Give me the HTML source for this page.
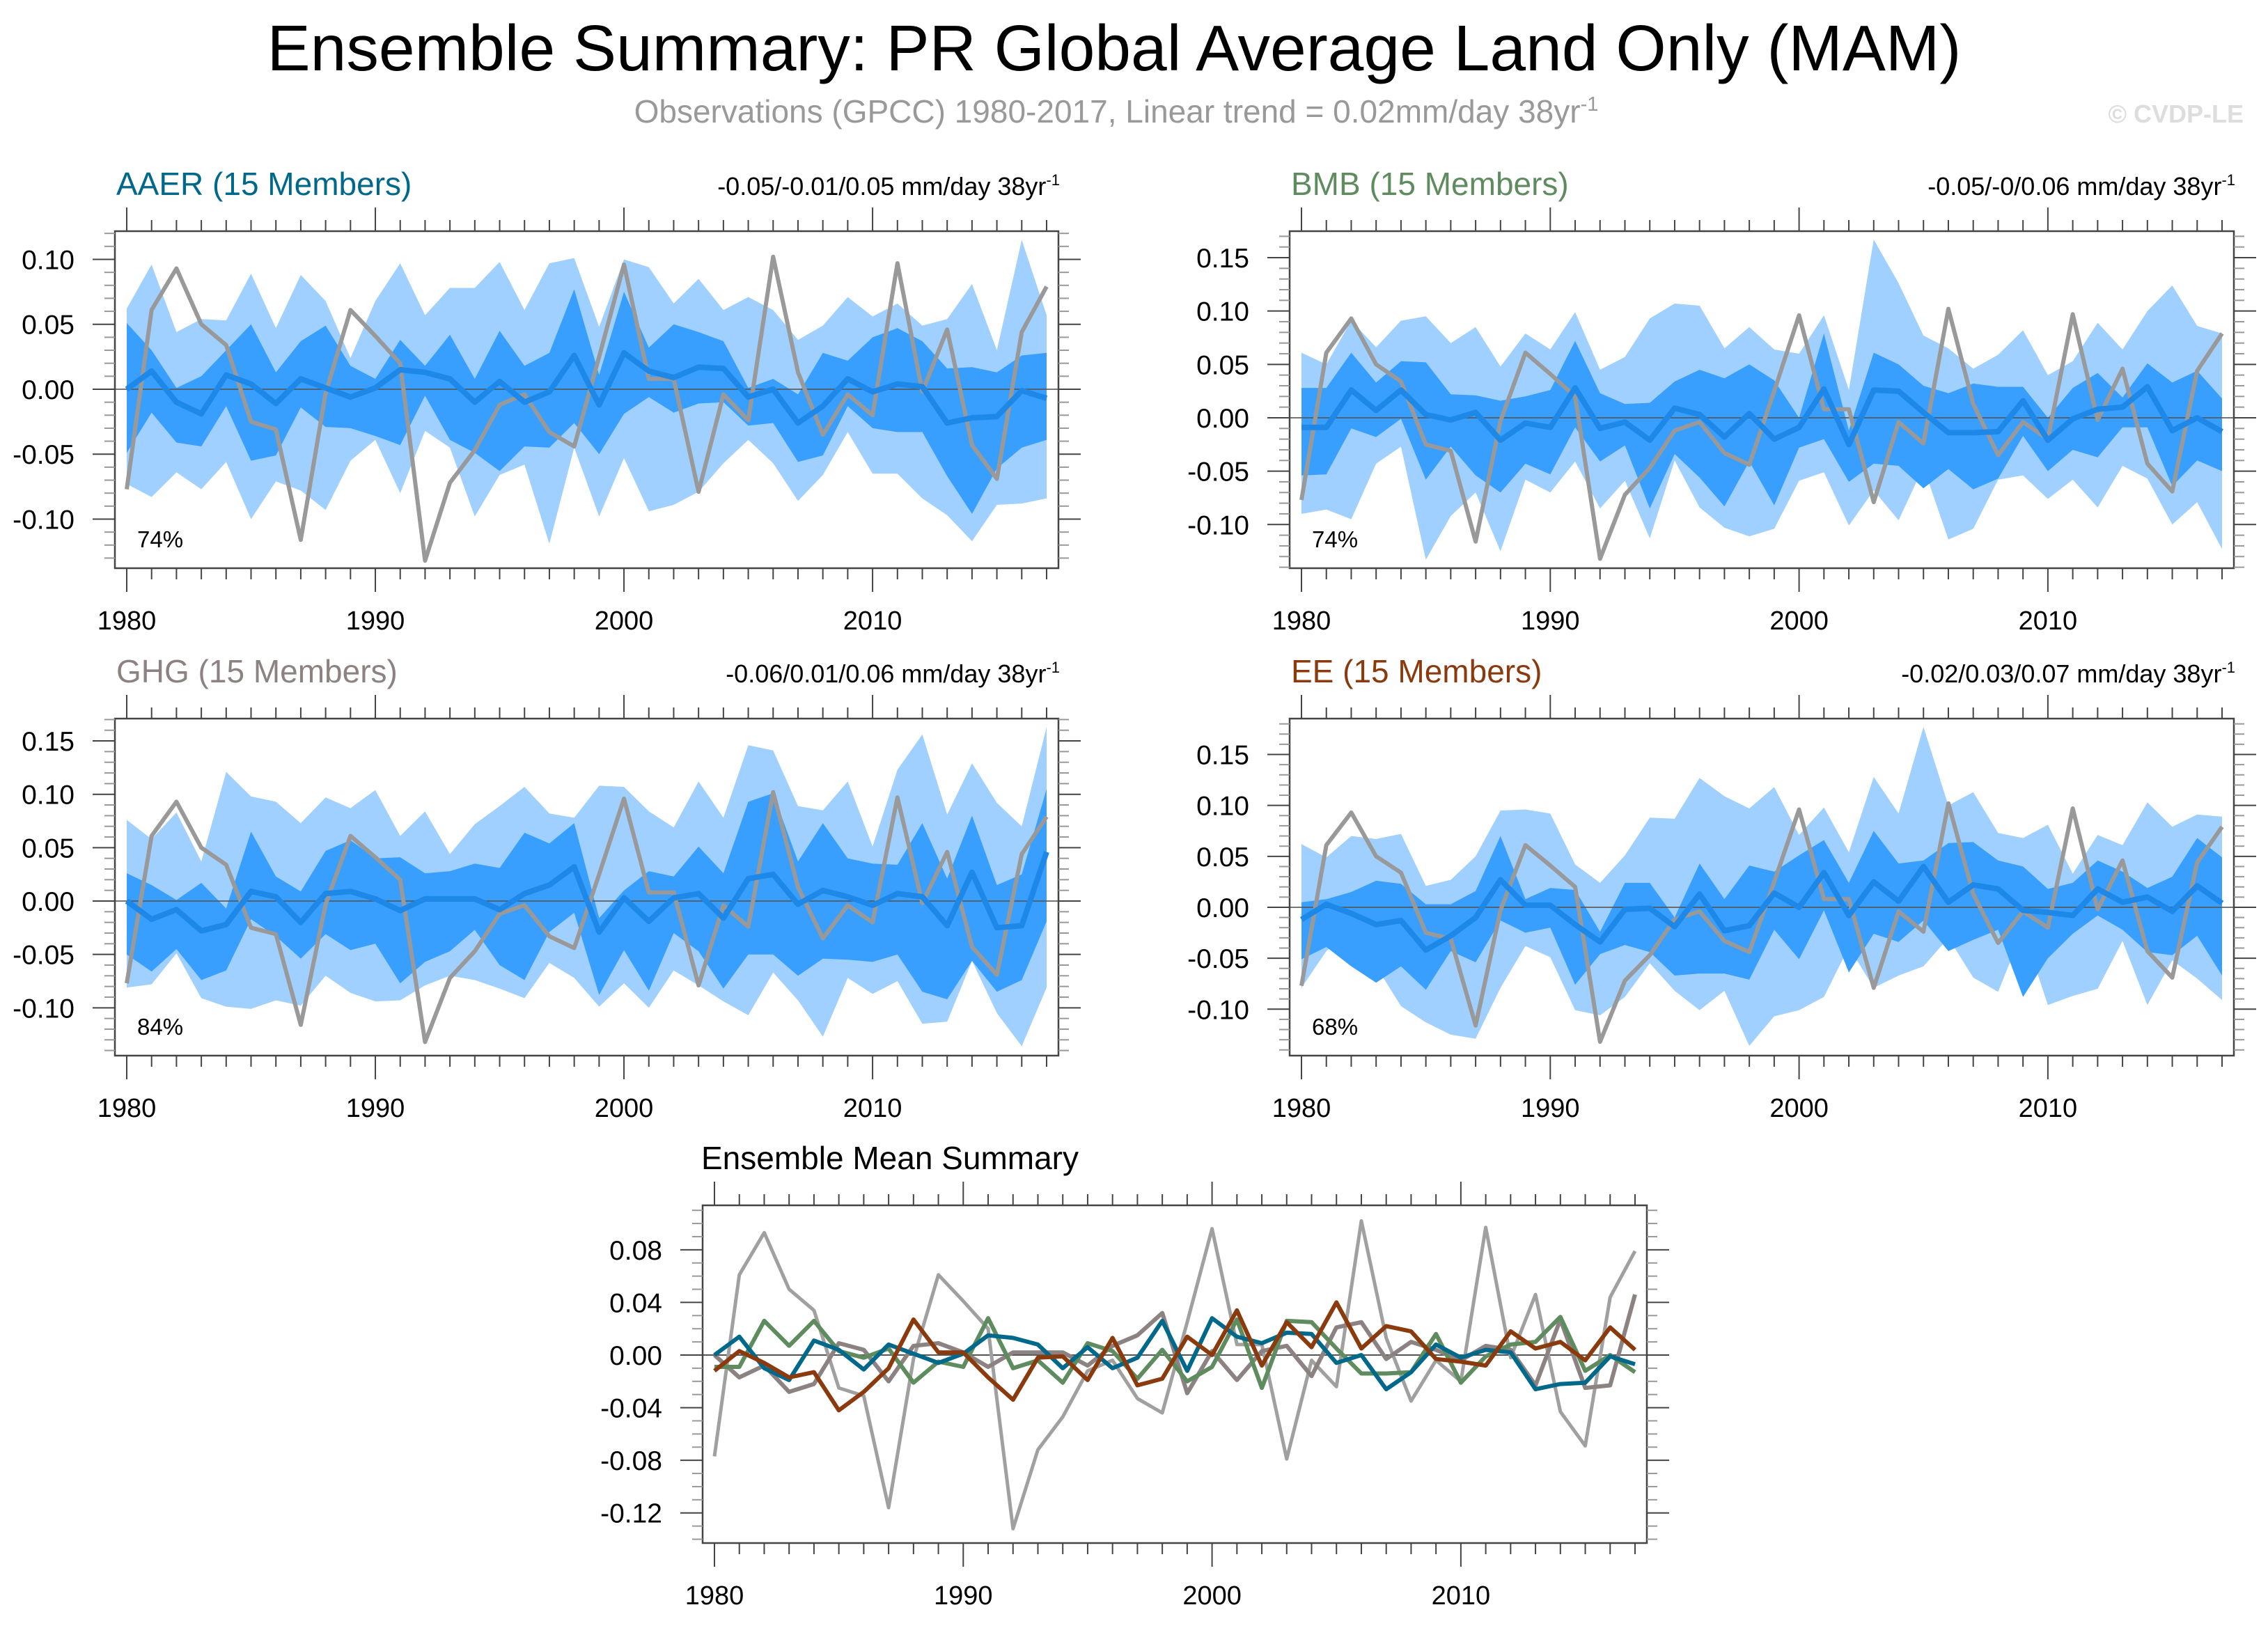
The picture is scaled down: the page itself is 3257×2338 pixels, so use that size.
<!DOCTYPE html>
<html><head><meta charset="utf-8"><style>
html,body{margin:0;padding:0;background:#fff;}
svg{display:block;font-family:"Liberation Sans",sans-serif;}
</style></head><body>
<svg id="chart" width="3257" height="2338" viewBox="0 0 3257 2338" xmlns="http://www.w3.org/2000/svg">
<rect width="3257" height="2338" fill="#fff"/>
<text x="1600" y="101" font-size="93" text-anchor="middle" fill="#000">Ensemble Summary: PR Global Average Land Only (MAM)</text>
<text x="1603" y="176" font-size="46" text-anchor="middle" fill="#999">Observations (GPCC) 1980-2017, Linear trend = 0.02mm/day 38yr<tspan dy="-17" font-size="29">-1</tspan></text>
<text x="3222" y="176" font-size="36" font-weight="bold" text-anchor="end" fill="#ddd">© CVDP-LE</text>
<g id="panels"></g>
</svg>
<script>
const years = [];for (let y = 1980; y <= 2017; y++) years.push(y);
const obs = [-0.077,0.061,0.093,0.050,0.034,-0.025,-0.031,-0.116,-0.003,0.061,0.041,0.020,-0.132,-0.072,-0.047,-0.012,-0.004,-0.033,-0.044,0.025,0.096,0.008,0.008,-0.079,-0.004,-0.024,0.102,0.013,-0.035,-0.004,-0.020,0.097,-0.002,0.046,-0.043,-0.069,0.044,0.079];

const aaerMean = [0.000,0.014,-0.010,-0.019,0.011,0.004,-0.011,0.008,0.001,-0.006,0.001,0.015,0.013,0.008,-0.010,0.006,-0.010,-0.002,0.026,-0.012,0.028,0.014,0.009,0.017,0.016,-0.006,0.000,-0.026,-0.013,0.008,-0.002,0.004,0.002,-0.026,-0.022,-0.021,-0.001,-0.007];
const aaerMax = [0.062,0.096,0.044,0.054,0.053,0.089,0.047,0.088,0.068,0.024,0.068,0.097,0.057,0.078,0.078,0.098,0.061,0.097,0.101,0.048,0.100,0.094,0.066,0.085,0.061,0.071,0.061,0.038,0.049,0.071,0.056,0.066,0.049,0.054,0.081,0.030,0.115,0.057];
const aaerHi = [0.051,0.030,0.001,0.010,0.030,0.050,0.013,0.037,0.049,0.018,0.008,0.038,0.018,0.042,0.008,0.045,0.018,0.028,0.077,0.011,0.075,0.032,0.050,0.044,0.037,0.001,0.008,-0.004,0.028,0.022,0.040,0.047,0.037,0.016,0.017,0.013,0.026,0.028];
const aaerLo = [-0.049,-0.018,-0.041,-0.044,-0.013,-0.055,-0.051,-0.014,-0.029,-0.030,-0.036,-0.043,-0.005,-0.039,-0.049,-0.063,-0.044,-0.045,-0.026,-0.050,-0.019,-0.006,-0.018,-0.011,-0.010,-0.028,-0.026,-0.056,-0.051,-0.013,-0.030,-0.033,-0.033,-0.067,-0.096,-0.061,-0.045,-0.039];
const aaerMin = [-0.073,-0.083,-0.064,-0.077,-0.056,-0.100,-0.071,-0.078,-0.093,-0.055,-0.039,-0.080,-0.032,-0.045,-0.098,-0.066,-0.058,-0.119,-0.045,-0.098,-0.053,-0.094,-0.089,-0.079,-0.057,-0.039,-0.057,-0.086,-0.066,-0.033,-0.065,-0.065,-0.084,-0.097,-0.117,-0.089,-0.088,-0.084];

const bmbMean = [-0.009,-0.009,0.026,0.007,0.026,0.003,-0.002,0.005,-0.021,-0.005,-0.009,0.028,-0.010,-0.004,-0.021,0.009,0.003,-0.018,0.004,-0.020,-0.009,0.027,-0.025,0.026,0.025,0.005,-0.014,-0.014,-0.013,0.016,-0.021,-0.001,0.008,0.010,0.029,-0.012,0.000,-0.013];
const bmbMax = [0.061,0.050,0.091,0.066,0.091,0.095,0.070,0.085,0.048,0.079,0.064,0.099,0.045,0.057,0.093,0.107,0.105,0.065,0.085,0.064,0.060,0.096,0.026,0.167,0.126,0.077,0.065,0.046,0.059,0.082,0.040,0.053,0.089,0.064,0.100,0.124,0.086,0.079];
const bmbHi = [0.028,0.028,0.061,0.033,0.053,0.052,0.022,0.021,0.016,0.020,0.026,0.072,0.023,0.013,0.014,0.034,0.045,0.037,0.050,0.035,0.000,0.079,-0.012,0.061,0.050,0.030,0.023,0.032,0.029,0.029,0.000,0.028,0.042,0.019,0.051,0.033,0.044,0.018];
const bmbLo = [-0.054,-0.053,-0.010,-0.018,-0.001,-0.058,-0.027,-0.054,-0.070,-0.043,-0.053,-0.009,-0.041,-0.026,-0.085,-0.034,-0.056,-0.083,-0.041,-0.082,-0.028,-0.020,-0.060,-0.043,-0.045,-0.066,-0.048,-0.067,-0.057,-0.017,-0.050,-0.030,-0.037,-0.009,-0.009,-0.064,-0.040,-0.050];
const bmbMin = [-0.090,-0.086,-0.095,-0.043,-0.027,-0.133,-0.092,-0.070,-0.125,-0.058,-0.070,-0.041,-0.085,-0.059,-0.113,-0.040,-0.084,-0.103,-0.111,-0.104,-0.059,-0.051,-0.101,-0.068,-0.096,-0.046,-0.114,-0.104,-0.058,-0.054,-0.076,-0.058,-0.084,-0.045,-0.057,-0.100,-0.079,-0.123];

const ghgMean = [0.000,-0.017,-0.008,-0.028,-0.022,0.009,0.004,-0.020,0.007,0.009,0.002,-0.009,0.002,0.002,0.002,-0.008,0.007,0.015,0.032,-0.029,0.003,-0.019,0.003,0.007,-0.016,0.021,0.025,-0.003,0.010,0.004,-0.004,0.007,0.004,-0.023,0.027,-0.025,-0.023,0.046];
const ghgMax = [0.076,0.058,0.083,0.037,0.121,0.098,0.093,0.073,0.097,0.087,0.104,0.061,0.084,0.044,0.072,0.089,0.107,0.082,0.078,0.108,0.107,0.084,0.069,0.112,0.078,0.146,0.141,0.089,0.085,0.112,0.051,0.123,0.156,0.081,0.129,0.092,0.070,0.163];
const ghgHi = [0.026,0.015,0.001,0.017,-0.007,0.065,0.023,0.009,0.047,0.057,0.040,0.041,0.026,0.028,0.035,0.031,0.064,0.054,0.073,-0.016,0.010,0.028,0.023,0.051,0.026,0.093,0.101,0.037,0.073,0.040,0.035,0.034,0.073,0.021,0.080,0.015,0.025,0.105];
const ghgLo = [-0.050,-0.066,-0.045,-0.074,-0.065,-0.017,-0.033,-0.054,-0.031,-0.046,-0.040,-0.077,-0.057,-0.047,-0.027,-0.060,-0.074,-0.029,-0.011,-0.088,-0.046,-0.084,-0.030,-0.047,-0.082,-0.050,-0.050,-0.070,-0.054,-0.055,-0.057,-0.050,-0.085,-0.092,-0.056,-0.085,-0.074,-0.019];
const ghgMin = [-0.081,-0.078,-0.049,-0.091,-0.099,-0.101,-0.093,-0.098,-0.070,-0.086,-0.094,-0.093,-0.079,-0.070,-0.074,-0.082,-0.091,-0.058,-0.072,-0.099,-0.077,-0.100,-0.065,-0.079,-0.094,-0.107,-0.067,-0.093,-0.127,-0.072,-0.087,-0.075,-0.115,-0.113,-0.056,-0.105,-0.136,-0.081];

const eeMean = [-0.012,0.003,-0.006,-0.017,-0.013,-0.042,-0.028,-0.010,0.027,0.002,0.002,-0.017,-0.034,-0.002,-0.001,-0.019,0.013,-0.023,-0.018,0.014,0.000,0.034,-0.008,0.025,0.006,0.040,0.005,0.022,0.018,-0.003,-0.005,-0.008,0.018,0.005,0.010,-0.004,0.021,0.004];
const eeMax = [0.062,0.049,0.070,0.067,0.072,0.021,0.027,0.050,0.095,0.096,0.092,0.042,0.024,0.051,0.088,0.087,0.127,0.109,0.097,0.118,0.071,0.098,0.054,0.128,0.092,0.177,0.100,0.113,0.073,0.068,0.081,0.033,0.071,0.061,0.103,0.079,0.091,0.089];
const eeHi = [0.005,0.008,0.015,0.026,0.023,0.003,0.003,0.016,0.070,0.008,0.019,0.017,-0.024,0.024,0.024,-0.010,0.043,0.008,0.041,0.035,0.051,0.066,0.024,0.075,0.043,0.046,0.063,0.064,0.046,0.040,0.018,0.024,0.046,0.035,0.019,0.030,0.068,0.049];
const eeLo = [-0.051,-0.039,-0.058,-0.074,-0.058,-0.081,-0.043,-0.054,-0.013,-0.025,-0.020,-0.076,-0.046,-0.037,-0.044,-0.067,-0.065,-0.065,-0.071,-0.022,-0.051,-0.003,-0.064,-0.026,-0.034,-0.013,-0.043,-0.032,-0.022,-0.088,-0.050,-0.026,-0.008,-0.022,-0.044,-0.047,-0.028,-0.067];
const eeMin = [-0.079,-0.043,-0.024,-0.058,-0.097,-0.113,-0.125,-0.129,-0.079,-0.038,-0.049,-0.101,-0.106,-0.088,-0.055,-0.082,-0.101,-0.082,-0.136,-0.107,-0.101,-0.088,-0.039,-0.079,-0.067,-0.058,-0.030,-0.069,-0.083,-0.022,-0.096,-0.087,-0.080,-0.033,-0.096,-0.052,-0.070,-0.091];

const aaerTicks = [-0.10,-0.05,0.00,0.05,0.10];
const panelTicks = [-0.10,-0.05,0.00,0.05,0.10,0.15];
const meanTicks = [-0.12,-0.08,-0.04,0.00,0.04,0.08];
const yearTicks = [1980,1990,2000,2010];

const NS = "http://www.w3.org/2000/svg";
const root = document.getElementById('panels');
function mk(tag, attrs, parent){const e=document.createElementNS(NS,tag);for(const k in attrs)e.setAttribute(k,attrs[k]);(parent||root).appendChild(e);return e;}

function makeAxes(box, yTop, yBot, ticks, decimals, g){
  const xs = v => box.x + 17 + (v-1980)*(box.w-34)/37;
  const ys = v => box.y + (yTop - v)/(yTop-yBot)*box.h;
  const fr = mk('rect',{x:box.x,y:box.y,width:box.w,height:box.h,fill:'none',stroke:'#444','stroke-width':2.5},g);
  
  
  for(const yr of years){
    const major = yr%10===0; const L = major?34:16;
    const x = xs(yr);
    mk('line',{x1:x,x2:x,y1:box.y,y2:box.y-L,stroke:'#444','stroke-width':2},g);
    mk('line',{x1:x,x2:x,y1:box.y+box.h,y2:box.y+box.h+L,stroke:'#444','stroke-width':2},g);
  }
  for(const yr of yearTicks){
    const t = mk('text',{x:xs(yr),y:box.y+box.h+88,'font-size':38,'text-anchor':'middle',fill:'#000'},g);
    t.textContent = yr;
    
    
  }
  for(let k=Math.ceil(yBot*100); k<=Math.floor(yTop*100); k++){
    const v=k/100, y=ys(v);
    const major = ticks.some(t=>Math.abs(t-v)<1e-6); const L = major?32:15;
    mk('line',{x1:box.x,x2:box.x-L,y1:y,y2:y,stroke:major?'#444':'#999','stroke-width':2},g);
    mk('line',{x1:box.x+box.w,x2:box.x+box.w+L,y1:y,y2:y,stroke:major?'#444':'#999','stroke-width':2},g);
  }
  for(const v of ticks){
    const t = mk('text',{x:box.x-58,y:ys(v)+14,'font-size':39,'text-anchor':'end',fill:'#000'},g);
    t.textContent = v.toFixed(decimals);
    
    
  }
  return {xs, ys};
}
function poly(xs, ys, upper, lower){
  const pts=[];
  years.forEach((yr,i)=>pts.push(xs(yr).toFixed(1)+','+ys(upper[i]).toFixed(1)));
  for(let i=years.length-1;i>=0;i--) pts.push(xs(years[i]).toFixed(1)+','+ys(lower[i]).toFixed(1));
  return pts.join(' ');
}
function line(xs, ys, vals){return years.map((yr,i)=>xs(yr).toFixed(1)+','+ys(vals[i]).toFixed(1)).join(' ');}

const panels = [
  {name:'aaer', title:'AAER (15 Members)', color:'#00688b', trend:'-0.05/-0.01/0.05 mm/day 38yr', pct:'74%', box:{x:165,y:332,w:1355,h:484}, top:0.1217, bot:-0.1378, ticks:aaerTicks, mean:aaerMean, max:aaerMax, hi:aaerHi, lo:aaerLo, min:aaerMin},
  {name:'bmb', title:'BMB (15 Members)', color:'#5e8c5e', trend:'-0.05/-0/0.06 mm/day 38yr', pct:'74%', box:{x:1852,y:332,w:1356,h:484}, top:0.1748, bot:-0.1409, ticks:panelTicks, mean:bmbMean, max:bmbMax, hi:bmbHi, lo:bmbLo, min:bmbMin},
  {name:'ghg', title:'GHG (15 Members)', color:'#8c8282', trend:'-0.06/0.01/0.06 mm/day 38yr', pct:'84%', box:{x:165,y:1032,w:1355,h:484}, top:0.1709, bot:-0.1448, ticks:panelTicks, mean:ghgMean, max:ghgMax, hi:ghgHi, lo:ghgLo, min:ghgMin},
  {name:'ee', title:'EE (15 Members)', color:'#8b3a0e', trend:'-0.02/0.03/0.07 mm/day 38yr', pct:'68%', box:{x:1852,y:1032,w:1356,h:484}, top:0.1852, bot:-0.1456, ticks:panelTicks, mean:eeMean, max:eeMax, hi:eeHi, lo:eeLo, min:eeMin}
];

for(const p of panels){
  const g = mk('g',{});
  
  
  const b=p.box;
  const xs = v => b.x + 17 + (v-1980)*(b.w-34)/37;
  const ys = v => b.y + (p.top - v)/(p.top-p.bot)*b.h;
  const outer = mk('polygon',{points:poly(xs,ys,p.max,p.min),fill:'#a0d0ff'},g);
  
  
  const inner = mk('polygon',{points:poly(xs,ys,p.hi,p.lo),fill:'#389fff'},g);
  
  
  mk('line',{x1:b.x,x2:b.x+b.w,y1:ys(0),y2:ys(0),stroke:'#555','stroke-width':2,opacity:0.8},g);
  const ol = mk('polyline',{points:line(xs,ys,obs),fill:'none',stroke:'#999','stroke-width':6,'stroke-linejoin':'round'},g);
  
  
  const ml = mk('polyline',{points:line(xs,ys,p.mean),fill:'none',stroke:'#1e88e8','stroke-width':8,'stroke-linejoin':'round'},g);
  
  
  makeAxes(b,p.top,p.bot,p.ticks,2,g);
  const t = mk('text',{x:b.x+2,y:b.y-52,'font-size':46,fill:p.color},g);
  t.textContent = p.title;
  
  
  const tr = mk('text',{x:b.x+b.w+2,y:b.y-52,'font-size':36,'text-anchor':'end',fill:'#000'},g);
  tr.textContent = p.trend;
  const sup = mk('tspan',{dy:-14,'font-size':22},tr);
  sup.textContent='-1';
  
  
  const pc = mk('text',{x:b.x+32,y:b.y+b.h-30,'font-size':33,fill:'#000'},g);
  pc.textContent = p.pct;
  
  
}

(function(){
  const g = mk('g',{});
  
  
  const b={x:1009,y:1731,w:1356,h:485}, top=0.1138, bot=-0.1429;
  const xs = v => b.x + 17 + (v-1980)*(b.w-34)/37;
  const ys = v => b.y + (top - v)/(top-bot)*b.h;
  mk('line',{x1:b.x,x2:b.x+b.w,y1:ys(0),y2:ys(0),stroke:'#555','stroke-width':2},g);
  const series=[['observations',obs,'#a0a0a0',5],['ghg',ghgMean,'#8c8282',6],['bmb',bmbMean,'#5e8c5e',6],['aaer',aaerMean,'#00688b',6],['ee',eeMean,'#8b3a0e',6]];
  for(const [n,vals,c,w] of series){
    const l = mk('polyline',{points:line(xs,ys,vals),fill:'none',stroke:c,'stroke-width':w,'stroke-linejoin':'round'},g);
    
    
  }
  makeAxes(b,top,bot,meanTicks,2,g);
  const t = mk('text',{x:b.x-2,y:b.y-52,'font-size':46,fill:'#000'},g);
  t.textContent='Ensemble Mean Summary';
  
  
})();
</script>
</body></html>
